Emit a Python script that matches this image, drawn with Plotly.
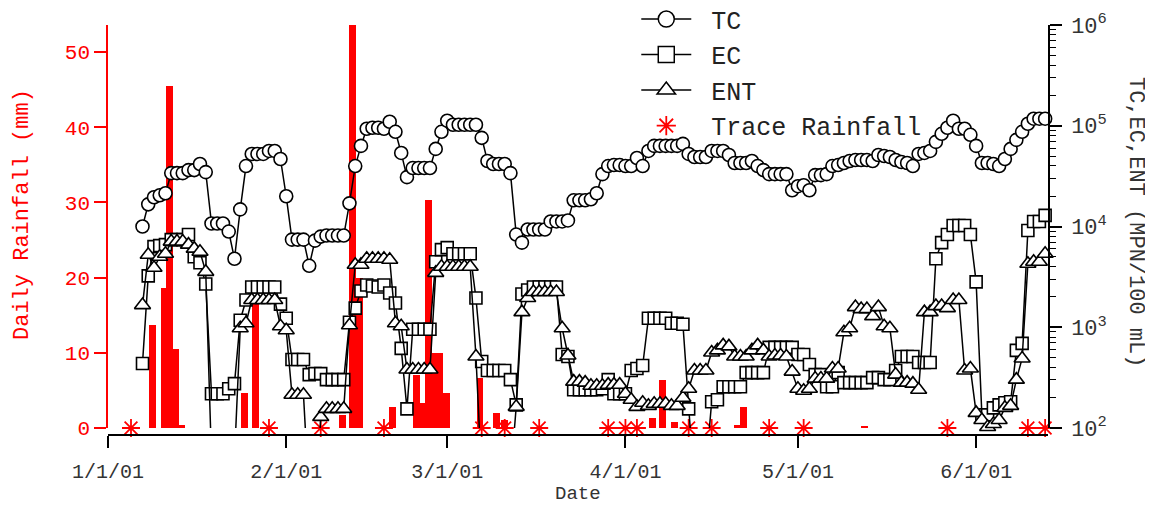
import plotly.graph_objects as go
import pandas as pd
from datetime import datetime, timedelta

START = datetime(2001, 1, 1)

# ---------------- data ----------------
# daily samples, 1/7/01 .. 6/13/01
sample_dates = pd.date_range("2001-01-07", "2001-06-13", freq="D")

# log10(MPN/100 mL)
tc_log10 = [
    4.00, 4.22, 4.29, 4.31, 4.33, 4.53, 4.53, 4.53, 4.56, 4.56, 4.62, 4.54,   # d6-17
    4.03, 4.03, 4.03, 3.95, 3.68, 4.17, 4.60, 4.72, 4.72, 4.72, 4.75, 4.75,   # d18-29
    4.67, 4.30, 3.87, 3.87, 3.87, 3.61, 3.86, 3.90, 3.91, 3.91, 3.91, 3.91,   # d30-41
    4.23, 4.60, 4.80, 4.97, 4.98, 4.98, 4.97, 5.04, 4.94, 4.73, 4.49, 4.58,   # d42-53
    4.58, 4.58, 4.58, 4.77, 4.94, 5.05, 5.01, 5.01, 5.01, 5.01, 5.01, 4.88,   # d54-65
    4.65, 4.62, 4.62, 4.62, 4.53, 3.92, 3.84, 3.97, 3.97, 3.97, 3.97, 4.05,   # d66-77
    4.05, 4.05, 4.06, 4.26, 4.26, 4.26, 4.27, 4.33, 4.52, 4.60, 4.61, 4.61,   # d78-89
    4.60, 4.60, 4.68, 4.60, 4.75, 4.80, 4.80, 4.80, 4.80, 4.80, 4.82, 4.72,   # d90-101
    4.69, 4.69, 4.69, 4.75, 4.75, 4.75, 4.71, 4.63, 4.63, 4.63, 4.65, 4.60,   # d102-113
    4.56, 4.52, 4.52, 4.52, 4.52, 4.36, 4.40, 4.41, 4.36, 4.51, 4.51, 4.52,   # d114-125
    4.60, 4.61, 4.63, 4.65, 4.66, 4.66, 4.66, 4.65, 4.71, 4.70, 4.69, 4.66,   # d126-137
    4.64, 4.63, 4.60, 4.72, 4.73, 4.75, 4.84, 4.92, 4.98, 5.05, 4.97, 4.97,   # d138-149
    4.91, 4.80, 4.63, 4.63, 4.62, 4.60, 4.67, 4.77, 4.86, 4.94, 5.02, 5.07,   # d150-161
    5.07, 5.07,                                                               # d162-163
]

ec_log10 = [
    2.64, 3.51, 3.80, 3.81, 3.82, 3.87, 3.87, 3.87, 3.92, 3.70, 3.64, 3.43,   # d6-17
    2.34, 2.34, 2.34, 2.39, 2.44, 3.07, 3.27, 3.40, 3.40, 3.40, 3.40, 3.40,   # d18-29
    3.23, 3.09, 2.68, 2.68, 2.68, 2.53, 2.54, 2.54, 2.48, 2.48, 2.48, 2.48,   # d30-41
    3.05, 3.19, 3.36, 3.42, 3.41, 3.40, 3.42, 3.34, 3.24, 2.79, 2.19, 2.98,   # d42-53
    2.98, 2.98, 2.98, 3.65, 3.77, 3.79, 3.73, 3.73, 3.73, 3.73, 3.29, 2.66,   # d54-65
    2.57, 2.57, 2.57, 2.57, 2.48, 2.23, 3.33, 3.37, 3.40, 3.40, 3.40, 3.40,   # d66-77
    3.40, 2.73, 2.71, 2.38, 2.38, 2.38, 2.38, 2.38, 2.39, 2.48, 2.34, 2.34,   # d78-89
    2.34, 2.57, 2.59, 2.62, 3.09, 3.09, 3.09, 3.09, 3.04, 3.04, 3.03, 2.19,   # d90-101
    1.40, 1.40, 1.60, 2.26, 2.28, 2.41, 2.41, 2.41, 2.41, 2.55, 2.55, 2.55,   # d102-113
    2.55, 2.80, 2.80, 2.80, 2.80, 2.80, 2.73, 2.73, 2.63, 2.53, 2.53, 2.41,   # d114-125
    2.41, 2.55, 2.45, 2.45, 2.45, 2.45, 2.45, 2.50, 2.50, 2.48, 2.48, 2.57,   # d126-137
    2.71, 2.71, 2.71, 2.65, 2.65, 2.65, 3.68, 3.84, 3.92, 4.01, 4.01, 4.01,   # d138-149
    3.92, 3.45, 2.13, 2.13, 2.20, 2.23, 2.25, 2.26, 2.77, 2.84, 3.96, 4.05,   # d150-161
    4.05, 4.11,                                                               # d162-163
]

ent_log10 = [
    3.22, 3.72, 3.59, 3.70, 3.73, 3.85, 3.85, 3.85, 3.82, 3.78, 3.75, 3.55,   # d6-17
    1.70, 1.70, 1.70, 1.70, 1.70, 2.99, 3.04, 3.27, 3.27, 3.27, 3.27, 3.27,   # d18-29
    3.01, 2.97, 2.33, 2.33, 2.33, 1.30, 1.00, 2.11, 2.19, 2.19, 2.19, 2.19,   # d30-41
    3.02, 3.62, 3.62, 3.68, 3.68, 3.68, 3.68, 3.67, 3.04, 3.01, 2.58, 2.58,   # d42-53
    2.58, 2.58, 2.58, 3.54, 3.60, 3.60, 3.60, 3.60, 3.60, 3.60, 2.71, 1.50,   # d54-65
    1.50, 1.50, 1.50, 1.50, 1.50, 2.21, 3.15, 3.29, 3.35, 3.35, 3.35, 3.35,   # d66-77
    3.35, 2.99, 2.72, 2.46, 2.46, 2.45, 2.42, 2.42, 2.42, 2.43, 2.43, 2.43,   # d78-89
    2.34, 2.28, 2.21, 2.25, 2.22, 2.24, 2.24, 2.24, 2.22, 2.22, 2.30, 2.39,   # d90-101
    2.57, 2.57, 2.57, 2.75, 2.77, 2.82, 2.81, 2.71, 2.71, 2.71, 2.77, 2.82,   # d102-113
    2.77, 2.71, 2.72, 2.72, 2.71, 2.56, 2.39, 2.37, 2.39, 2.49, 2.49, 2.49,   # d114-125
    2.59, 2.59, 2.95, 2.99, 3.20, 3.18, 3.18, 3.11, 3.20, 3.01, 2.99, 2.53,   # d126-137
    2.45, 2.45, 2.44, 2.38, 3.15, 3.15, 3.21, 3.21, 3.19, 3.27, 3.27, 2.57,   # d138-149
    2.59, 2.15, 2.08, 2.01, 2.04, 2.08, 2.20, 2.22, 2.48, 2.69, 3.63, 3.65,   # d150-161
    3.65, 3.73,                                                               # d162-163
]

# daily rainfall bars: position (days after 1/1/01) and depth (mm)
rain_day = [7.70, 9.82, 10.64, 11.80, 12.83, 23.70, 25.60, 40.80, 42.60, 43.80,
            49.50, 53.70, 54.60, 55.70, 56.90, 57.70, 58.80, 64.70, 67.60, 68.90,
            94.70, 96.50, 98.60, 109.50, 110.60, 131.60]
rain_mm = [13.7, 18.6, 45.5, 10.5, 0.4, 4.7, 17.5, 1.7, 58.0, 19.9,
           2.8, 7.0, 3.3, 30.3, 10.0, 10.0, 4.7, 6.7, 1.95, 1.06,
           1.3, 6.4, 0.8, 0.4, 2.8, 0.3]

# trace rainfall days
trace_rain_dates = ["2001-01-05", "2001-01-29", "2001-02-07", "2001-02-18", "2001-03-07",
                    "2001-03-11", "2001-03-17", "2001-03-29", "2001-04-01", "2001-04-03",
                    "2001-04-12", "2001-04-16", "2001-04-26", "2001-05-02", "2001-05-27",
                    "2001-06-10", "2001-06-13"]
trace_rain_mm = [0] * len(trace_rain_dates)

month_ticks = ["2001-01-01", "2001-02-01", "2001-03-01", "2001-04-01", "2001-05-01", "2001-06-01"]
month_labels = ["1/1/01", "2/1/01", "3/1/01", "4/1/01", "5/1/01", "6/1/01"]

# ---------------- figure ----------------
FONT = "Liberation Mono"
NB = "\u00a0"
tc = [10 ** v for v in tc_log10]
ec = [10 ** v for v in ec_log10]
ent = [10 ** v for v in ent_log10]
rain_dates = [START + timedelta(days=d) for d in rain_day]


def vis_sizes(vals, s):
    return [s if v >= 100 else 0 for v in vals]


fig = go.Figure()

fig.add_trace(go.Bar(x=rain_dates, y=rain_mm, yaxis="y", width=1.2 * 86400000,
                     marker=dict(color="red", line=dict(width=0)), opacity=1,
                     showlegend=False, name="Daily Rainfall"))
fig.add_trace(go.Scatter(x=trace_rain_dates, y=trace_rain_mm, yaxis="y", mode="markers",
                         marker=dict(symbol="asterisk-open", size=15, color="red",
                                     line=dict(color="red", width=1.8)),
                         cliponaxis=False, showlegend=False, name="Trace Rainfall"))

series = [
    ("EC", ec, "square", 12),
    ("ENT", ent, "triangle-up", 14),
    ("TC", tc, "circle", 13),
]
for name, vals, sym, sz in series:
    fig.add_trace(go.Scatter(
        x=sample_dates, y=vals, yaxis="y2", mode="lines+markers", name=name,
        line=dict(color="black", width=1.5),
        marker=dict(symbol=sym, size=vis_sizes(vals, sz), color="white", opacity=1,
                    line=dict(color="black", width=1.6)),
        cliponaxis=False, showlegend=False))

# legend entries
for rank, (name, sym) in enumerate([("TC", "circle"), ("EC", "square"), ("ENT", "triangle-up")]):
    fig.add_trace(go.Scatter(x=[None], y=[None], yaxis="y2", mode="lines+markers", name=NB + name,
                             line=dict(color="black", width=1.5),
                             marker=dict(symbol=sym, size=16, color="white",
                                         line=dict(color="black", width=1.5)),
                             legendrank=rank + 1))
fig.add_trace(go.Scatter(x=[None], y=[None], yaxis="y", mode="markers", name=NB + "Trace Rainfall",
                         marker=dict(symbol="asterisk-open", size=16, color="red",
                                     line=dict(color="red", width=1.8)),
                         legendrank=4))

# the page body adds an 8 px offset; the figure is sized/margined to compensate
fig.update_layout(
    width=1145, height=500,
    margin=dict(l=100, r=105, t=17, b=73, pad=0, autoexpand=False),
    plot_bgcolor="white", paper_bgcolor="white",
    barmode="overlay", bargap=0,
    font=dict(family=FONT, color="#222"),
    xaxis=dict(
        type="date", range=[START, START + timedelta(days=163.5)],
        anchor="free", position=0, automargin=False,
        showline=True, linecolor="black", linewidth=1.5,
        ticks="outside", ticklen=12, tickwidth=1.5, tickcolor="black",
        tickvals=month_ticks, ticktext=month_labels, ticklabelstandoff=6,
        tickfont=dict(family=FONT, size=20, color="#333"),
        showgrid=False, zeroline=False,
    ),
    yaxis=dict(
        domain=[7 / 410, 1], range=[0, 53.6], automargin=False,
        showline=True, linecolor="red", linewidth=1.5,
        ticks="outside", ticklen=12, tickwidth=1.5, tickcolor="red",
        tickvals=[0, 10, 20, 30, 40, 50],
        tickfont=dict(family=FONT, size=21, color="red"),
        showgrid=False, zeroline=False,
    ),
    yaxis2=dict(
        type="log", range=[2, 6], overlaying="y", side="right", anchor="x", automargin=False,
        showline=True, linecolor="black", linewidth=1.5,
        ticks="outside", ticklen=12, tickwidth=1.5, tickcolor="black",
        tickvals=[1e2, 1e3, 1e4, 1e5, 1e6],
        ticktext=["10<sup>2</sup>", "10<sup>3</sup>", "10<sup>4</sup>", "10<sup>5</sup>", "10<sup>6</sup>"],
        ticklabelstandoff=5,
        tickfont=dict(family=FONT, size=22, color="#333"),
        minor=dict(ticks="outside", ticklen=6, tickwidth=1.2, tickcolor="black", dtick="D1", showgrid=False),
        showgrid=False, zeroline=False,
    ),
    legend=dict(
        x=0.562, y=1.07, xanchor="left", yanchor="top",
        font=dict(family=FONT, size=25, color="#222"),
        itemwidth=50, bgcolor="rgba(0,0,0,0)", borderwidth=0, tracegroupgap=0,
    ),
    annotations=[
        dict(text="Daily Rainfall (mm)", xref="paper", yref="paper",
             x=(22 - 108) / 940, y=(435 - 215) / 410, textangle=-90,
             showarrow=False, xanchor="center", yanchor="middle",
             font=dict(family=FONT, size=22, color="red")),
        dict(text="TC,EC,ENT (MPN/100 mL)", xref="paper", yref="paper",
             x=(1136 - 108) / 940, y=(435 - 222) / 410, textangle=90,
             showarrow=False, xanchor="center", yanchor="middle",
             font=dict(family=FONT, size=22, color="#333")),
        dict(text="Date", xref="paper", yref="paper",
             x=0.5, y=(435 - 494) / 410,
             showarrow=False, xanchor="center", yanchor="middle",
             font=dict(family=FONT, size=19, color="#333")),
    ],
)

fig.write_html("out.html")
